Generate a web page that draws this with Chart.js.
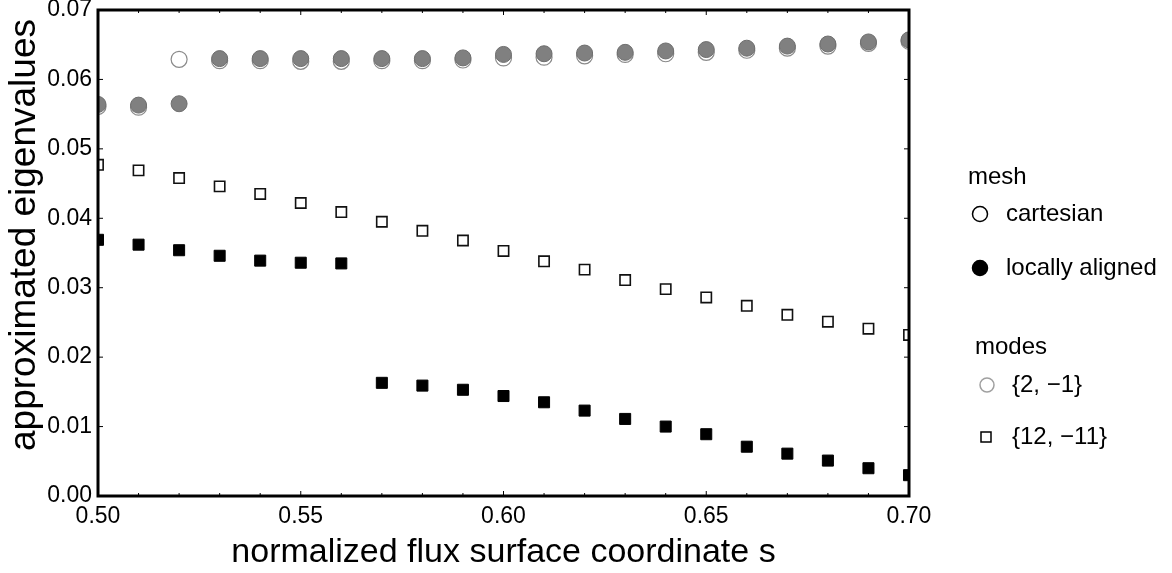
<!DOCTYPE html>
<html>
<head>
<meta charset="utf-8">
<script src="https://cdn.jsdelivr.net/npm/chart.js@4/dist/chart.umd.min.js"></script>
<style>
  html, body { margin: 0; padding: 0; background: #fff; }
  #wrap { width: 1172px; height: 573px; position: relative; }
</style>
</head>
<body>
<div id="wrap"><canvas id="chart"></canvas></div>
<script>
// normalized flux surface coordinate s
const sValues = [0.50, 0.51, 0.52, 0.53, 0.54, 0.55, 0.56, 0.57, 0.58, 0.59, 0.60,
  0.61, 0.62, 0.63, 0.64, 0.65, 0.66, 0.67, 0.68, 0.69, 0.70];

// mode {2, -1}
const circleCartesian = [0.0561, 0.0560, 0.0629, 0.0627, 0.0627, 0.0626, 0.0626, 0.0627, 0.0627, 0.0628, 0.0631,
  0.0632, 0.0634, 0.0636, 0.0637, 0.0639, 0.0642, 0.0645, 0.0648, 0.0652, 0.0655];
const circleAligned = [0.0564, 0.0563, 0.0565, 0.0630, 0.0630, 0.0630, 0.0630, 0.0630, 0.0630, 0.0631, 0.0636,
  0.0637, 0.0638, 0.0639, 0.0641, 0.0643, 0.0645, 0.0648, 0.0651, 0.0654, 0.0657];

// mode {12, -11}
const squareCartesian = [0.0477, 0.0469, 0.0458, 0.0446, 0.0435, 0.0422, 0.0409, 0.0395, 0.0382, 0.0368, 0.0353,
  0.0338, 0.0326, 0.0311, 0.0298, 0.0286, 0.0274, 0.0261, 0.0251, 0.0241, 0.0232];
const squareAligned = [0.0369, 0.0362, 0.0354, 0.0346, 0.0339, 0.0336, 0.0335, 0.0163, 0.0159, 0.0153, 0.0144,
  0.0135, 0.0123, 0.0111, 0.0100, 0.0089, 0.0071, 0.0061, 0.0051, 0.0040, 0.0030];

const xTicks = [0.50, 0.55, 0.60, 0.65, 0.70];
const yTicks = [0.00, 0.01, 0.02, 0.03, 0.04, 0.05, 0.06, 0.07];
const yTitle = 'approximated eigenvalues';

const FONT = "'Liberation Sans', Arial, Helvetica, sans-serif";
const pts = vals => sValues.map((s, i) => ({ x: s, y: vals[i] }));

const legendItems = [
  { kind: 'title', text: 'mesh', x: 968, y: 177 },
  { kind: 'item', text: 'cartesian', x: 1006, y: 214, sym: 'circle', sx: 980, r: 7.5, fill: null, stroke: '#000' },
  { kind: 'item', text: 'locally aligned', x: 1006, y: 268, sym: 'circle', sx: 980, r: 7.5, fill: '#000', stroke: '#000' },
  { kind: 'title', text: 'modes', x: 975, y: 347 },
  { kind: 'item', text: '{2, \u22121}', x: 1012, y: 385, sym: 'circle', sx: 987, r: 7, fill: null, stroke: '#a0a0a0' },
  { kind: 'item', text: '{12, \u221211}', x: 1012, y: 437, sym: 'rect', sx: 986, r: 5, fill: null, stroke: '#000' }
];

const framePlugin = {
  id: 'frame',
  afterDatasetsDraw(chart) {
    const { ctx, chartArea: a, scales } = chart;
    ctx.save();
    ctx.strokeStyle = '#000';
    ctx.lineWidth = 1;
    // small inward ticks like the original
    for (let v = 0.50; v <= 0.7001; v += 0.01) {
      const px = scales.x.getPixelForValue(v);
      const major = Math.abs(v * 20 - Math.round(v * 20)) < 1e-6;
      const len = major ? 5 : 3;
      ctx.beginPath();
      ctx.moveTo(px, a.bottom); ctx.lineTo(px, a.bottom - len);
      ctx.moveTo(px, a.top); ctx.lineTo(px, a.top + len);
      ctx.stroke();
    }
    yTicks.forEach(v => {
      const py = scales.y.getPixelForValue(v);
      ctx.beginPath();
      ctx.moveTo(a.left, py); ctx.lineTo(a.left + 5, py);
      ctx.moveTo(a.right, py); ctx.lineTo(a.right - 5, py);
      ctx.stroke();
    });
    ctx.lineWidth = 3;
    ctx.strokeRect(a.left, a.top, a.right - a.left, a.bottom - a.top);
    ctx.restore();
  }
};

const legendPlugin = {
  id: 'sideLegend',
  afterDraw(chart) {
    const ctx = chart.ctx;
    ctx.save();
    // y axis title, a bit above the plot centre as in the original
    ctx.save();
    ctx.translate(25, 235);
    ctx.rotate(-Math.PI / 2);
    ctx.font = '37px ' + FONT;
    ctx.textAlign = 'center';
    ctx.textBaseline = 'middle';
    ctx.fillStyle = '#000';
    ctx.fillText(yTitle, 0, 0);
    ctx.restore();

    ctx.font = '24px ' + FONT;
    ctx.textBaseline = 'middle';
    legendItems.forEach(it => {
      ctx.fillStyle = '#000';
      ctx.fillText(it.text, it.x, it.y);
      if (it.kind !== 'item') return;
      ctx.lineWidth = 1.5;
      ctx.strokeStyle = it.stroke;
      ctx.beginPath();
      if (it.sym === 'circle') ctx.arc(it.sx, it.y, it.r, 0, Math.PI * 2);
      else ctx.rect(it.sx - it.r, it.y - it.r, it.r * 2, it.r * 2);
      if (it.fill) { ctx.fillStyle = it.fill; ctx.fill(); }
      ctx.stroke();
    });
    ctx.restore();
  }
};

Chart.defaults.font.family = FONT;
Chart.defaults.color = '#000';

new Chart(document.getElementById('chart'), {
  type: 'scatter',
  data: {
    datasets: [
      { label: 'locally aligned {2,-1}', data: pts(circleAligned), pointStyle: 'circle', pointRadius: 8,
        backgroundColor: '#808080', borderColor: '#6e6e6e', borderWidth: 1, order: 1, clip: 0 },
      { label: 'cartesian {2,-1}', data: pts(circleCartesian), pointStyle: 'circle', pointRadius: 8,
        backgroundColor: 'rgba(255,255,255,0)', borderColor: '#8a8a8a', borderWidth: 1.2, order: 2, clip: 0 },
      { label: 'locally aligned {12,-11}', data: pts(squareAligned), pointStyle: 'rect', pointRadius: 7.8,
        backgroundColor: '#000', borderColor: '#000', borderWidth: 1, order: 1, clip: 0 },
      { label: 'cartesian {12,-11}', data: pts(squareCartesian), pointStyle: 'rect', pointRadius: 7.3,
        backgroundColor: '#fff', borderColor: '#111', borderWidth: 1.6, order: 2, clip: 0 }
    ]
  },
  options: {
    responsive: true,
    maintainAspectRatio: false,
    animation: false,
    events: [],
    layout: { padding: { top: 10, right: 263, left: 0, bottom: 0 } },
    plugins: { legend: { display: false }, tooltip: { enabled: false } },
    scales: {
      x: {
        type: 'linear', min: 0.5, max: 0.7,
        afterBuildTicks: s => { s.ticks = xTicks.map(v => ({ value: v })); },
        afterFit: s => { s.height = 77; s.paddingLeft = 0; s.paddingRight = 0; },
        grid: { display: false, drawTicks: false },
        border: { display: false },
        ticks: { font: { size: 23 }, padding: 7, maxRotation: 0, callback: v => Number(v).toFixed(2) },
        title: { display: true, text: 'normalized flux surface coordinate s', font: { size: 34 }, padding: { top: 0, bottom: 0 } }
      },
      y: {
        type: 'linear', min: 0, max: 0.07,
        afterBuildTicks: s => { s.ticks = yTicks.map(v => ({ value: v })); },
        afterFit: s => { s.width = 98; s.paddingTop = 0; s.paddingBottom = 0; },
        grid: { display: false, drawTicks: false },
        border: { display: false },
        ticks: { font: { size: 23 }, padding: 6, callback: v => Number(v).toFixed(2) },
        title: { display: false }
      }
    }
  },
  plugins: [framePlugin, legendPlugin]
});
</script>
</body>
</html>
